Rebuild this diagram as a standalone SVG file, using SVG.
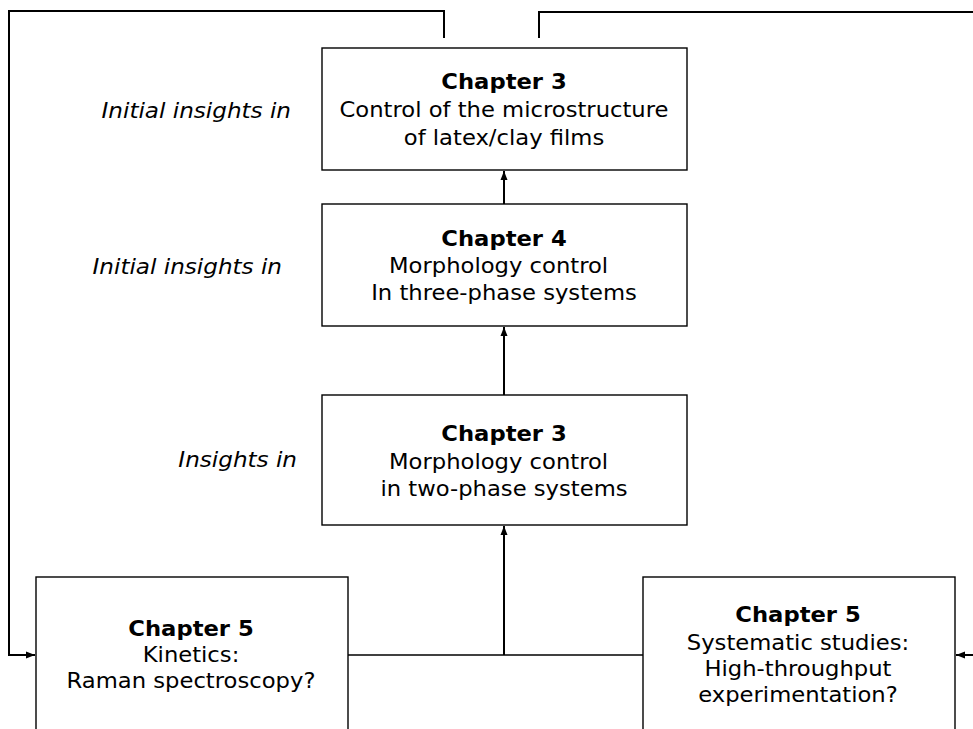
<svg xmlns="http://www.w3.org/2000/svg" width="973" height="729" viewBox="0 0 973 729">
<style>
.box{fill:#fff;stroke:#000;stroke-width:1.4}
.t{font-family:"DejaVu Sans",Verdana,sans-serif;font-size:21px;fill:#000;text-anchor:middle}
.b{font-weight:bold}
.lab{font-family:"DejaVu Sans",Verdana,sans-serif;font-size:21px;font-style:italic;fill:#000;text-anchor:end}
.c{fill:none;stroke:#000;stroke-width:2}
</style>
<defs>
<marker id="ah" markerUnits="userSpaceOnUse" markerWidth="10" markerHeight="9" refX="9" refY="4.5" orient="auto">
<path d="M0,1 L9,4.5 L0,8 z" fill="#000"/>
</marker>
</defs>
<rect width="973" height="729" fill="#fff"/>
<g id="connectors">
<path class="c" d="M444,38 V11 H9 V655 H35" marker-end="url(#ah)"/>
<path class="c" d="M539,38 V12 H990 V655 H956" marker-end="url(#ah)"/>
<path class="c" d="M348,655 H643" style="stroke-width:1.6"/>
<path class="c" d="M504,655 V526" marker-end="url(#ah)"/>
<path class="c" d="M504,395 V327" marker-end="url(#ah)"/>
<path class="c" d="M504,204 V171" marker-end="url(#ah)"/>
</g>
<g id="ch3-films">
<rect class="box" x="322" y="48" width="365" height="122"/>
<g transform="translate(504 0) scale(1.08 1)">
<text class="t b" x="0" y="89">Chapter 3</text>
<text class="t" x="0" y="117">Control of the microstructure</text>
<text class="t" x="0" y="145">of latex/clay films</text>
</g>
</g>
<g id="ch4">
<rect class="box" x="322" y="204" width="365" height="122"/>
<g transform="translate(504 0) scale(1.08 1)">
<text class="t b" x="0" y="246">Chapter 4</text>
<text class="t" x="-5" y="273">Morphology control</text>
<text class="t" x="0" y="300">In three-phase systems</text>
</g>
</g>
<g id="ch3-two">
<rect class="box" x="322" y="395" width="365" height="130"/>
<g transform="translate(504 0) scale(1.08 1)">
<text class="t b" x="0" y="441">Chapter 3</text>
<text class="t" x="-5" y="469">Morphology control</text>
<text class="t" x="0" y="496">in two-phase systems</text>
</g>
</g>
<g id="labels">
<g transform="translate(291 0) scale(1.1 1)"><text class="lab" x="0" y="118">Initial insights in</text></g>
<g transform="translate(282 0) scale(1.1 1)"><text class="lab" x="0" y="274">Initial insights in</text></g>
<g transform="translate(297 0) scale(1.1 1)"><text class="lab" x="0" y="467">Insights in</text></g>
</g>
<g id="ch5-kinetics">
<rect class="box" x="36" y="577" width="312" height="200"/>
<g transform="translate(191 0) scale(1.08 1)">
<text class="t b" x="0" y="636">Chapter 5</text>
<text class="t" x="0" y="662">Kinetics:</text>
<text class="t" x="0" y="688">Raman spectroscopy?</text>
</g>
</g>
<g id="ch5-hte">
<rect class="box" x="643" y="577" width="312" height="200"/>
<g transform="translate(798 0) scale(1.08 1)">
<text class="t b" x="0" y="622">Chapter 5</text>
<text class="t" x="0" y="650">Systematic studies:</text>
<text class="t" x="0" y="676">High-throughput</text>
<text class="t" x="0" y="702">experimentation?</text>
</g>
</g>
</svg>
